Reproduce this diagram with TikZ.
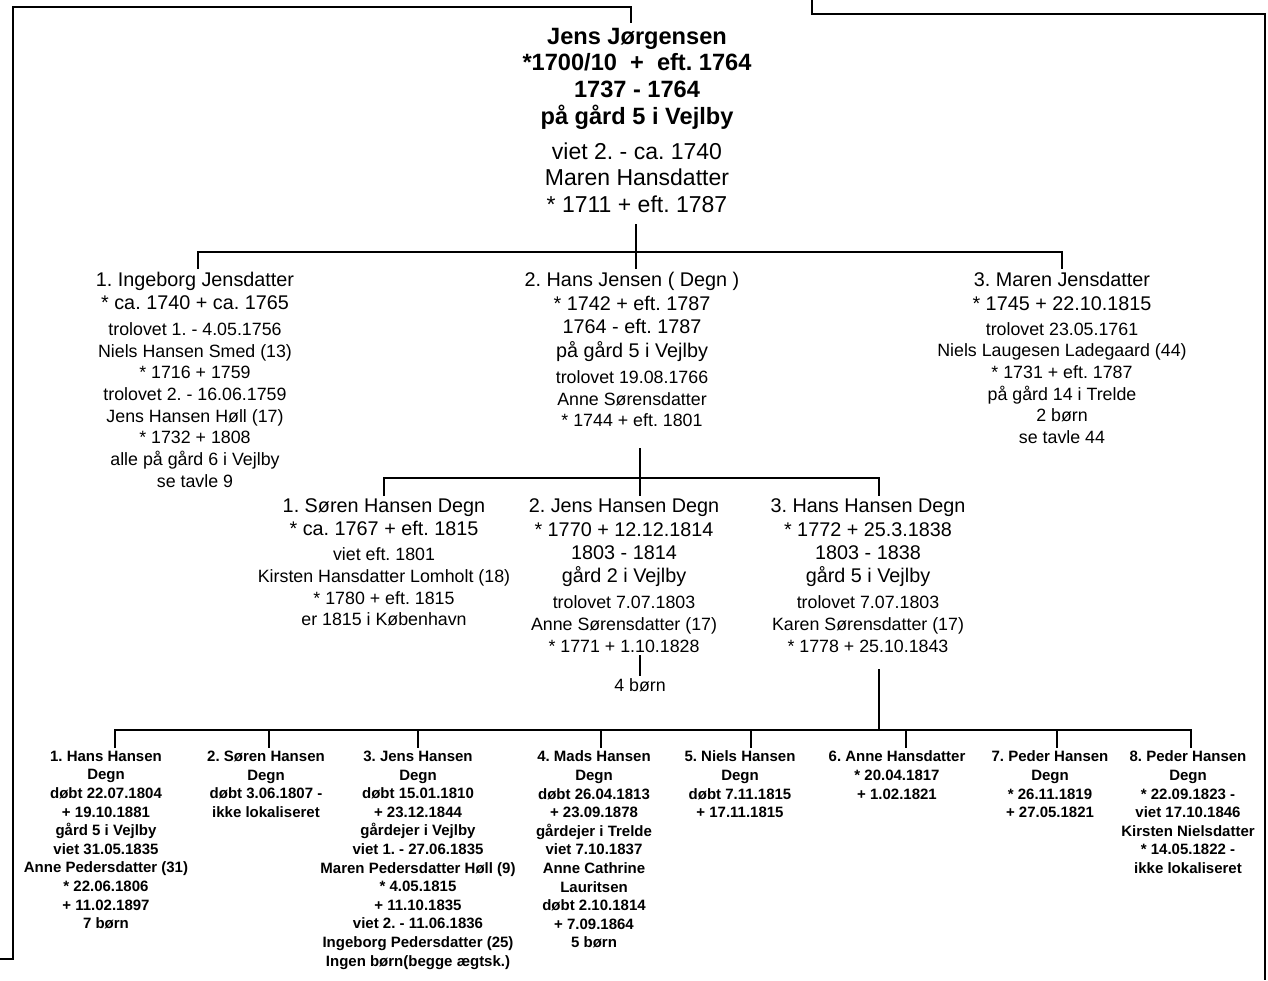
\documentclass[tikz,border=0pt]{standalone}
\usepackage{fontspec}
\setmainfont{Liberation Sans}
\frenchspacing
\newcommand{\sm}{\fontsize{8.9}{10.85}\selectfont}
\newcommand{\rg}{\fontsize{11.5}{13.3}\selectfont\mdseries}

\begin{document}
\begin{tikzpicture}[x=0.5pt, y=-0.5pt, line width=0.8pt,
    person/.style={align=center, anchor=north, inner sep=0pt, outer sep=1.5pt,
      font=\fontsize{9.9}{10.85}\selectfont},
    kid/.style={align=center, anchor=north, inner sep=0pt, outer sep=1.5pt,
      font=\fontsize{7.5}{9.3}\selectfont\bfseries}]
  \useasboundingbox (0,0) rectangle (1268,980);

  % pieces of the frame round the sheet
  \draw[line width=1pt] (0,959) -- (13,959) -- (13,7) -- (631,7) -- (631,23);
  \draw[line width=1pt] (812,0) -- (812,14) -- (1265,14) -- (1265,980);

  \node [person, font=\fontsize{11.8}{13.3}\selectfont\bfseries] (jj) at (637,25)
    {Jens Jørgensen\\ *1700/10\ \ +\ \ eft. 1764\\ 1737 - 1764\\ på gård 5 i Vejlby\\[4.2pt]
     \rg viet 2. - ca. 1740\\ \rg Maren Hansdatter\\ \rg * 1711 + eft. 1787};

  % children of Jens Jørgensen
  \node [person] (ij) at (195,269) {1. Ingeborg Jensdatter\\[0.6pt] * ca. 1740 + ca. 1765\\[2.2pt]
    \sm trolovet 1. - 4.05.1756\\ \sm Niels Hansen Smed (13)\\ \sm * 1716 + 1759\\
    \sm trolovet 2. - 16.06.1759\\ \sm Jens Hansen Høll (17)\\ \sm * 1732 + 1808\\
    \sm alle på gård 6 i Vejlby\\ \sm se tavle 9};
  \node [person] (hj) at (632,269) {2. Hans Jensen ( Degn )\\[1pt] * 1742 + eft. 1787\\[1pt]
    1764 - eft. 1787\\[1pt] på gård 5 i Vejlby\\[2.2pt]
    \sm trolovet 19.08.1766\\ \sm Anne Sørensdatter\\ \sm * 1744 + eft. 1801};
  \node [person] (mj) at (1062,269) {3. Maren Jensdatter\\[1pt] * 1745 + 22.10.1815\\[1.7pt]
    \sm trolovet 23.05.1761\\ \sm Niels Laugesen Ladegaard (44)\\ \sm * 1731 + eft. 1787\\
    \sm på gård 14 i Trelde\\ \sm 2 børn\\ \sm se tavle 44};

  % children of Hans Jensen
  \node [person] (sh) at (384,496) {1. Søren Hansen Degn\\[0.6pt] * ca. 1767 + eft. 1815\\[1.7pt]
    \sm viet eft. 1801\\ \sm Kirsten Hansdatter Lomholt (18)\\ \sm * 1780 + eft. 1815\\
    \sm er 1815 i København};
  \node [person] (jh) at (624,496) {2. Jens Hansen Degn\\[0.8pt] * 1770 + 12.12.1814\\[0.8pt]
    1803 - 1814\\[0.8pt] gård 2 i Vejlby\\[2.2pt]
    \sm trolovet 7.07.1803\\ \sm Anne Sørensdatter (17)\\ \sm * 1771 + 1.10.1828};
  \node [person] (hh) at (868,496) {3. Hans Hansen Degn\\[0.8pt] * 1772 + 25.3.1838\\[0.8pt]
    1803 - 1838\\[0.8pt] gård 5 i Vejlby\\[2.2pt]
    \sm trolovet 7.07.1803\\ \sm Karen Sørensdatter (17)\\ \sm * 1778 + 25.10.1843};
  \node [person, font=\sm] (jb) at (640,676) {4 børn};

  % children of Hans Hansen Degn
  \node [kid] (k1) at (106,748) {1. Hans Hansen\\ Degn\\ døbt 22.07.1804\\ + 19.10.1881\\
    gård 5 i Vejlby\\ viet 31.05.1835\\ Anne Pedersdatter (31)\\ * 22.06.1806\\
    + 11.02.1897\\ 7 børn};
  \node [kid] (k2) at (266,748) {2. Søren Hansen\\ Degn\\ døbt 3.06.1807 -\\ ikke lokaliseret};
  \node [kid] (k3) at (418,748) {3. Jens Hansen\\ Degn\\ døbt 15.01.1810\\ + 23.12.1844\\
    gårdejer i Vejlby\\ viet 1. - 27.06.1835\\ Maren Pedersdatter Høll (9)\\ * 4.05.1815\\
    + 11.10.1835\\ viet 2. - 11.06.1836\\ Ingeborg Pedersdatter (25)\\
    Ingen børn(begge ægtsk.)};
  \node [kid] (k4) at (594,748) {4. Mads Hansen\\ Degn\\ døbt 26.04.1813\\ + 23.09.1878\\
    gårdejer i Trelde\\ viet 7.10.1837\\ Anne Cathrine\\ Lauritsen\\ døbt 2.10.1814\\
    + 7.09.1864\\ 5 børn};
  \node [kid] (k5) at (740,748) {5. Niels Hansen\\ Degn\\ døbt 7.11.1815\\ + 17.11.1815};
  \node [kid] (k6) at (897,748) {6. Anne Hansdatter\\ * 20.04.1817\\ + 1.02.1821};
  \node [kid] (k7) at (1050,748) {7. Peder Hansen\\ Degn\\ * 26.11.1819\\ + 27.05.1821};
  \node [kid] (k8) at (1188,748) {8. Peder Hansen\\ Degn\\ * 22.09.1823 -\\ viet 17.10.1846\\
    Kirsten Nielsdatter\\ * 14.05.1822 -\\ ikke lokaliseret};

  % family lines
  \coordinate (b1) at (636,252);
  \draw ([yshift=-4.5pt]jj.south -| b1) -- (b1);
  \draw (ij.north -| 198,0) |- (b1) -| (mj.north -| 1062,0);
  \draw (b1) -- (hj.north -| b1);

  \coordinate (b2) at (640,478);
  \draw ([yshift=-9pt]hj.south -| b2) -- (b2);
  \draw (sh.north -| 384,0) |- (b2) -| (hh.north -| 879,0);
  \draw (b2) -- (jh.north -| b2);
  \draw (jh.south -| jb) -- (jb.north);

  \coordinate (b3) at (879,730);
  \draw ([yshift=-7pt]hh.south -| b3) -- (b3);
  \draw (k1.north -| 115,0) |- (b3) -| (k8.north -| 1191,0);
  \foreach \k/\x in {k2/269, k3/418, k4/601, k5/751, k6/906, k7/1057}{
    \draw (b3 -| \x,0) -- (\k.north -| \x,0);
  }
\end{tikzpicture}
\end{document}
